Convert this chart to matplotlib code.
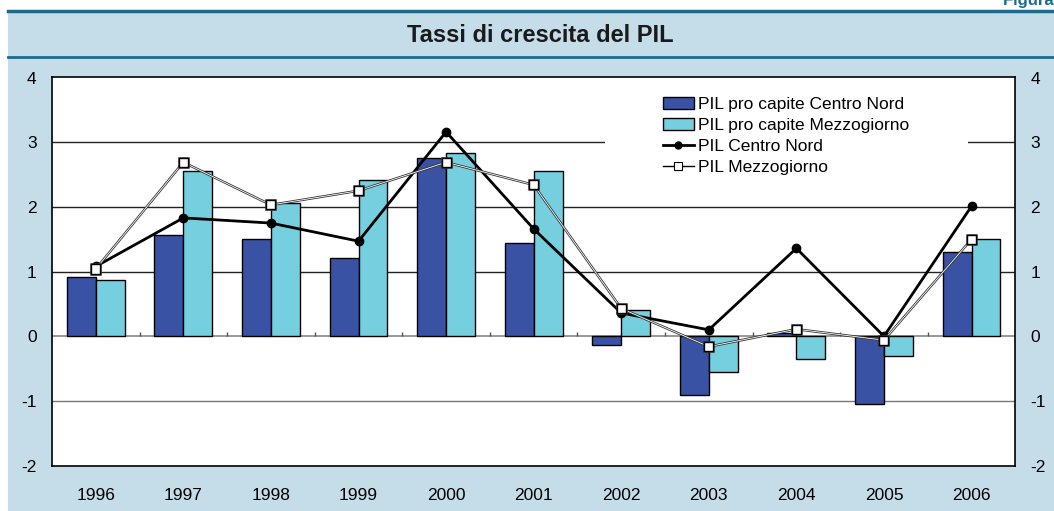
import numpy as np
import matplotlib.pyplot as plt
import matplotlib.patheffects as pe
from matplotlib.lines import Line2D

years = ['1996', '1997', '1998', '1999', '2000', '2001', '2002', '2003', '2004', '2005', '2006']
pc_centro_nord = [0.92, 1.57, 1.50, 1.21, 2.76, 1.44, -0.14, -0.91, 0.05, -1.05, 1.31]
pc_mezzogiorno = [0.87, 2.55, 2.06, 2.42, 2.83, 2.55, 0.40, -0.55, -0.35, -0.30, 1.50]
pil_centro_nord = [1.08, 1.83, 1.75, 1.47, 3.16, 1.66, 0.36, 0.10, 1.36, 0.00, 2.01]
pil_mezzogiorno = [1.04, 2.69, 2.03, 2.25, 2.69, 2.34, 0.43, -0.16, 0.11, -0.06, 1.50]
yticks = [-2, -1, 0, 1, 2, 3, 4]

bg = '#c5dde8'
teal = '#1d6a8a'
dark = '#3a52a3'
light = '#76cfdf'

plt.rcParams['font.family'] = ['Liberation Sans', 'DejaVu Sans']
plt.rcParams['axes.unicode_minus'] = False
fig = plt.figure(figsize=(10.54, 5.11), dpi=100)
fig.patch.set_facecolor('white')

# light blue panel and header lines (drawn in a background axes, pixel units)
bgax = fig.add_axes([0, 0, 1, 1], zorder=0)
bgax.set_xlim(0, 1054)
bgax.set_ylim(511, 0)
bgax.axis('off')
bgax.add_patch(plt.Rectangle((8, 11), 1054 - 8, 500, facecolor=bg, edgecolor='none'))
bgax.add_line(Line2D([8, 1054], [11, 11], color=teal, lw=2.5))
bgax.add_line(Line2D([8, 1054], [57, 57], color=teal, lw=2))
bgax.text(540, 35, 'Tassi di crescita del PIL', ha='center', va='center',
          fontsize=17, fontweight='bold', color='#1a1a1a')
bgax.text(1003, 5, 'Figura 3.1', ha='left', va='baseline',
          fontsize=12, fontweight='bold', color=teal, clip_on=False)

ax = fig.add_axes([52/1054, 1 - 465.7/511, (1015.3 - 52)/1054, (465.7 - 77.5)/511], zorder=2)
ax.set_facecolor('white')
x = np.arange(len(years))
w = 0.33

for v in yticks[1:-1]:
    if v == 0:
        continue
    ax.axhline(v, color='#777777' if v < 0 else '#222222', lw=1, zorder=1)
ax.axhline(0, color='#888888', lw=1.2, zorder=1)
ax.vlines(x[:-1] + 0.5, 0, 0.07, color='#555555', lw=1, zorder=1)
# white box behind the legend
ax.add_patch(plt.Rectangle((0.574, 2.6), 0.377, 0.8, transform=ax.get_yaxis_transform(),
                           facecolor='white', edgecolor='none', zorder=1.5))

b1 = ax.bar(x - w / 2, pc_centro_nord, w, color=dark, edgecolor='black', lw=1, zorder=2)
b2 = ax.bar(x + w / 2, pc_mezzogiorno, w, color=light, edgecolor='black', lw=1, zorder=2)
ax.plot(x, pil_centro_nord, color='black', lw=2, marker='o', ms=6, zorder=4)
ax.plot(x, pil_mezzogiorno, color='white', lw=0.6, marker='s', ms=6.5, mfc='white', mec='black',
        mew=1, zorder=5,
        path_effects=[pe.Stroke(linewidth=1.8, foreground='#333333'), pe.Normal()])

ax.set_xlim(-0.5, len(years) - 0.5)
ax.set_ylim(-2, 4)
ax.set_yticks(yticks)
ax.set_xticks(x)
ax.set_xticklabels(years)
ax.tick_params(axis='x', length=0, pad=16, labelsize=12.5)
ax.tick_params(axis='y', length=0, pad=11, labelsize=12.5, labelright=True)
for s in ax.spines.values():
    s.set_color('black')
    s.set_linewidth(1.2)

h3 = Line2D([], [], color='black', lw=2, marker='o', ms=5)
h4 = Line2D([], [], color='black', lw=1, marker='s', ms=5.5, mfc='white', mec='black', mew=0.8)
leg = ax.legend([b1, b2, h3, h4],
                ['PIL pro capite Centro Nord', 'PIL pro capite Mezzogiorno',
                 'PIL Centro Nord', 'PIL Mezzogiorno'],
                loc='upper left', bbox_to_anchor=(0.634, 0.95), fontsize=12.5, frameon=False,
                handlelength=1.8, handleheight=0.7, handletextpad=0.25, labelspacing=0.34,
                borderpad=0, borderaxespad=0, numpoints=1)
leg.set_zorder(3)

fig.savefig('out.png', dpi=100)
